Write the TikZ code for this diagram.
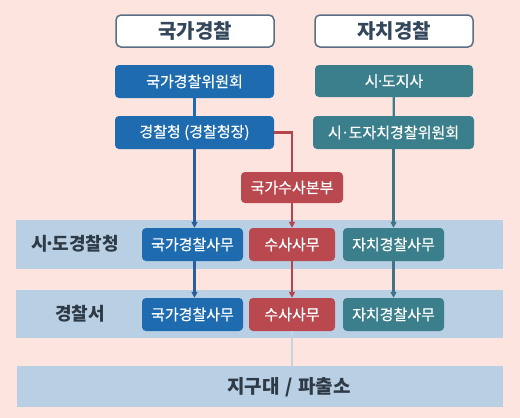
\documentclass[tikz,border=0pt]{standalone}
\usepackage{fontspec}
\setmainfont{Noto Sans CJK KR}
\newfontfamily\boxfont{Noto Sans CJK KR}[FakeBold=0.5]
\usepackage{tikz}
\usetikzlibrary{arrows.meta}
\definecolor{PageBg}{HTML}{FDE4DF}
\definecolor{BandBlue}{HTML}{B9CFE4}
\definecolor{HeadLine}{HTML}{5B6E84}
\definecolor{HeadText}{HTML}{33465A}
\definecolor{PoliceBlue}{HTML}{1E6BB0}
\definecolor{PoliceTeal}{HTML}{3B7F8C}
\definecolor{PoliceRed}{HTML}{B9494F}
\definecolor{ArrowBlue}{HTML}{2B5E9B}
\definecolor{ArrowTeal}{HTML}{3F7585}
\definecolor{ArrowRed}{HTML}{B3464B}
\definecolor{RowText}{HTML}{2E3A46}
\definecolor{StemGray}{HTML}{C6D4E2}
\newcommand{\tightdot}{\kern-0.17em·\kern-0.17em}
\newcommand{\loosedot}{\kern-0.05em·\kern-0.05em}
\tikzset{
  headbox/.style={draw=HeadLine, fill=white, line width=1.5pt, rounded corners=5pt,
    minimum width=158pt, minimum height=32pt, text=HeadText,
    font=\bfseries\fontsize{20}{20}\selectfont},
  unitbox/.style={rounded corners=4pt, text=white, inner sep=0pt,
    minimum height=33pt, font=\boxfont\fontsize{15}{15}\selectfont},
  bluebox/.style={unitbox, fill=PoliceBlue},
  tealbox/.style={unitbox, fill=PoliceTeal},
  redbox/.style={unitbox, fill=PoliceRed},
  band/.style={fill=BandBlue, inner sep=0pt, minimum width=487pt},
  rowlabel/.style={text=RowText, font=\bfseries\fontsize{18}{18}\selectfont},
  link/.style={line width=2.2pt},
  tip/.style={link, -{Triangle[length=6pt,width=6pt]}}
}
\begin{document}
\begin{tikzpicture}[x=1pt,y=-1pt]
\fill[PageBg] (0,0) rectangle (520,418);

\node[headbox] (hnat) at (195,31) {국가경찰};
\node[headbox] (hauto) at (394,31) {자치경찰};

\node[bluebox, minimum width=159pt] (npc) at (194.5,81.5) {국가경찰위원회};
\node[tealbox, minimum width=158pt, minimum height=32pt] (gov) at (394,81) {시\tightdot 도지사};
\node[bluebox, minimum width=159pt] (kna) at (194.5,132.5) {경찰청 (경찰청장)};
\node[tealbox, minimum width=161pt] (apc) at (393.5,132.5) {시\loosedot 도자치경찰위원회};
\node[redbox, minimum width=102pt, minimum height=31pt] (nob) at (292,187.5) {국가수사본부};

\node[band, minimum height=49pt] (bandA) at (259.5,244.5) {};
\node[band, minimum height=48pt] (bandB) at (259.5,314) {};
\node[band, minimum width=486pt, minimum height=41pt] (bandC) at (260,386.5) {};

\node[rowlabel] (lblA) at (75,244) {시\tightdot 도경찰청};
\node[rowlabel] (lblB) at (80,314) {경찰서};

\node[bluebox, minimum width=101pt] (natA) at (192.5,244.5) {국가경찰사무};
\node[redbox, minimum width=86pt] (invA) at (292,244.5) {수사사무};
\node[tealbox, minimum width=101pt] (autA) at (393.5,244.5) {자치경찰사무};
\node[bluebox, minimum width=101pt] (natB) at (192.5,314.5) {국가경찰사무};
\node[redbox, minimum width=86pt] (invB) at (292,314.5) {수사사무};
\node[tealbox, minimum width=101pt] (autB) at (393.5,314.5) {자치경찰사무};

\node[rowlabel, font=\bfseries\fontsize{19}{19}\selectfont] (lblC) at (289,387) {지구대\hspace{0.3em}/\hspace{0.3em}파출소};

\draw[link, PoliceBlue] (npc) -- (kna);
\draw[link, PoliceTeal] (gov) -- (apc);
\draw[link, ArrowRed] (kna.east) -| (nob.north);

\draw[tip, ArrowBlue] (kna.south) -- (kna.south |- natA.north);
\draw[tip, ArrowRed] (nob.south) -- (invA.north);
\draw[tip, ArrowTeal] (apc.south) -- (autA.north);
\draw[tip, ArrowBlue] (kna.south |- natA.south) -- (kna.south |- natB.north);
\draw[tip, ArrowRed] (invA.south) -- (invB.north);
\draw[tip, ArrowTeal] (autA.south) -- (autB.north);
\draw[link, StemGray] (invB.south) -- (invB.south |- bandC.north);
\end{tikzpicture}
\end{document}
